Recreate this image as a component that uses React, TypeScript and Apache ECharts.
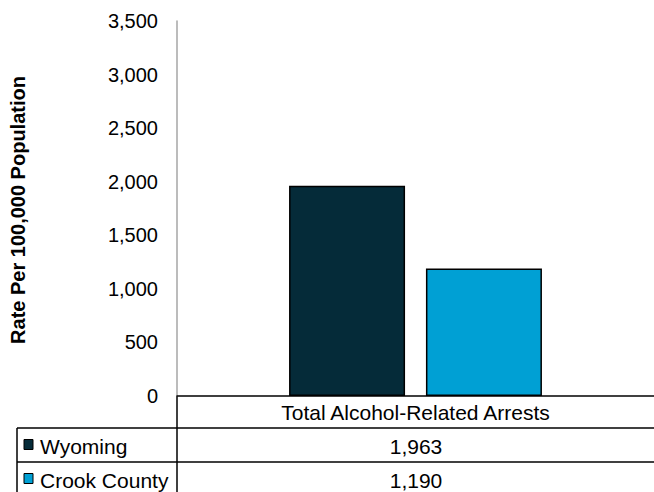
import React, { useEffect, useRef } from "react";
import * as echarts from "echarts";

const categories = ["Total Alcohol-Related Arrests"];
const seriesNames = ["Wyoming", "Crook County"];
const wyomingValues = [1963];
const crookValues = [1190];
const seriesColors = ["#052B39", "#00A0D4"];
const yMax = 3500;
const yInterval = 500;

const FONT = "Liberation Sans, Arial, sans-serif";

export default function App() {
  const ref = useRef<HTMLDivElement>(null);
  useEffect(() => {
    if (!ref.current) return;
    const chart = echarts.init(ref.current, null, { renderer: "svg" });
    const allValues = [wyomingValues, crookValues];
    const gridLeft = 177;
    const gridTop = 21;
    const gridHeight = 375;
    const gridWidth = 478;
    const tableLeft = 17;
    const rowTops = [428, 462];
    const rowH = 34;
    const graphics: any[] = [
      {
        type: "text",
        x: 18,
        y: 210,
        rotation: Math.PI / 2,
        style: {
          text: "Rate Per 100,000 Population",
          font: `bold 20px ${FONT}`,
          fill: "#000",
          align: "center",
          verticalAlign: "middle",
        },
      },
      { type: "line", shape: { x1: gridLeft, y1: gridTop + gridHeight, x2: gridLeft, y2: 492 }, style: { stroke: "#000", lineWidth: 1.5 } },
      { type: "line", shape: { x1: tableLeft, y1: rowTops[0], x2: tableLeft, y2: 492 }, style: { stroke: "#000", lineWidth: 1.5 } },
    ];
    rowTops.forEach((t) => {
      graphics.push({ type: "line", shape: { x1: tableLeft, y1: t, x2: 654, y2: t }, style: { stroke: "#000", lineWidth: 1.5 } });
    });
    seriesNames.forEach((name, i) => {
      const cy = rowTops[i] + rowH / 2;
      graphics.push({
        type: "rect",
        shape: { x: 24, y: cy - 5.5, width: 9, height: 10 },
        style: { fill: seriesColors[i], stroke: "#000", lineWidth: 1 },
      });
      graphics.push({
        type: "text",
        x: 40,
        y: cy + 1,
        style: { text: name, font: `21px ${FONT}`, fill: "#000", align: "left", verticalAlign: "middle" },
      });
      categories.forEach((c, j) => {
        const v = allValues[i][j];
        graphics.push({
          type: "text",
          x: gridLeft + gridWidth / 2,
          y: cy + 1,
          style: {
            text: v.toLocaleString("en-US"),
            font: `21px ${FONT}`,
            fill: "#000",
            align: "center",
            verticalAlign: "middle",
          },
        });
      });
    });

    chart.setOption({
      animation: false,
      grid: { left: gridLeft, top: gridTop, width: gridWidth, height: gridHeight, containLabel: false },
      xAxis: {
        type: "category",
        data: categories,
        axisLine: { show: true, lineStyle: { color: "#000", width: 1.5 } },
        axisTick: { show: false },
        axisLabel: { color: "#000", fontSize: 21, fontFamily: FONT, margin: 6 },
      },
      yAxis: {
        type: "value",
        min: 0,
        max: yMax,
        interval: yInterval,
        axisLine: { show: true, lineStyle: { color: "#a6a6a6", width: 1.5 } },
        axisTick: { show: false },
        splitLine: { show: false },
        axisLabel: {
          color: "#000",
          fontSize: 20,
          fontFamily: FONT,
          margin: 19,
          formatter: (v: number) => v.toLocaleString("en-US"),
        },
      },
      series: seriesNames.map((name, i) => ({
        name,
        type: "bar",
        data: allValues[i],
        barWidth: 116,
        barGap: "18%",
        itemStyle: { color: seriesColors[i], borderColor: "#000", borderWidth: 1.5 },
      })),
      graphic: graphics,
    });
    return () => chart.dispose();
  }, []);
  return <div ref={ref} style={{ width: 654, height: 492, position: "absolute", left: 0, top: 0 }} />;
}
